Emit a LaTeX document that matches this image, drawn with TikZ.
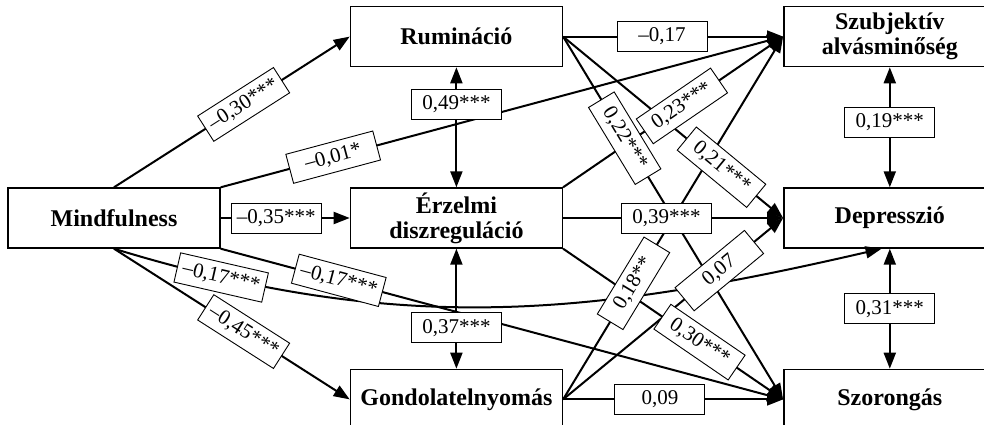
\documentclass[tikz,border=0pt]{standalone}
\usepackage{fontspec}
\setmainfont{Liberation Serif}
\usetikzlibrary{positioning,arrows.meta}

\tikzset{
  var/.style={draw, line width=1.4pt, minimum width=212pt, minimum height=60pt,
    inner sep=0pt, align=center, font=\fontsize{24}{25}\selectfont\bfseries},
  coef/.style={draw, fill=white, line width=0.9pt, minimum width=90pt,
    minimum height=30pt, inner sep=2pt, font=\fontsize{21}{22}\selectfont},
  eff/.style={line width=2pt, -{Triangle[length=16pt,width=12pt]}},
  cov/.style={line width=2pt, {Triangle[length=16pt,width=12pt]}-{Triangle[length=16pt,width=12pt]}},
}

\begin{document}
\begin{tikzpicture}
    \useasboundingbox (0,0) rectangle (984pt,424pt);
    \clip (0,0) rectangle (984pt,424pt);
    % define variables
    \node[var] (mind) at (114pt,206pt) {Mindfulness};
    % mediators
    \node[var, above right=120pt and 129pt of mind] (rum) {Rumináció};
    \node[var, right=129pt of mind] (erz) {Érzelmi\\diszreguláció};
    \node[var, below right=120pt and 129pt of mind] (gond) {Gondolatelnyomás};
    % outcomes
    \node[var, right=220pt of rum] (szubj) {Szubjektív\\alvásminőség};
    \node[var, right=220pt of erz] (depr) {Depresszió};
    \node[var, right=220pt of gond] (szor) {Szorongás};
    % draw paths
    \draw[eff] (mind.north) -- (rum.west);
    \draw[eff] (mind.north east) -- (szubj.west);
    \draw[eff] (mind.east) -- (erz.west);
    \draw[eff] (mind.south east) -- (szor.west);
    \draw[eff] (mind.south) to[out=-17, in=193] (depr.-105);
    \draw[eff] (mind.south) -- (gond.west);
    \draw[eff] (rum.east) -- (szubj.west);
    \draw[eff] (rum.east) -- (depr.west);
    \draw[eff] (rum.east) -- (szor.west);
    \draw[eff] (erz.north east) -- (szubj.west);
    \draw[eff] (erz.east) -- (depr.west);
    \draw[eff] (erz.south east) -- (szor.west);
    \draw[eff] (gond.east) -- (szubj.west);
    \draw[eff] (gond.east) -- (depr.west);
    \draw[eff] (gond.east) -- (szor.west);
    % covariances
    \draw[cov] (rum.south) -- (erz.north);
    \draw[cov] (erz.south) -- (gond.north);
    \draw[cov] (szubj.south) -- (depr.north);
    \draw[cov] (depr.south) -- (szor.north);
    % add labels
    \path (mind.north) -- (rum.west) node[coef, sloped, pos=.55] {–0,30***};
    \path (mind.north east) -- (szubj.west) node[coef, sloped, pos=.2] {–0,01*};
    \path (mind.east) -- (erz.west) node[coef, pos=.43] {–0,35***};
    \path (mind.south east) -- (szor.west) node[coef, sloped, pos=.21] {–0,17***};
    \path (mind.south) to[out=-17, in=193] node[coef, sloped, pos=.13] {–0,17***} (depr.-105);
    \path (mind.south) -- (gond.west) node[coef, sloped, pos=.55] {–0,45***};
    \path (rum.east) -- (szubj.west) node[coef, pos=.45] {–0,17};
    \path (rum.east) -- (depr.west) node[coef, sloped, pos=.72] {0,21***};
    \path (rum.east) -- (szor.west) node[coef, sloped, pos=.28] {0,22***};
    \path (erz.north east) -- (szubj.west) node[coef, sloped, pos=.54] {0,23***};
    \path (erz.east) -- (depr.west) node[coef, pos=.47] {0,39***};
    \path (erz.south east) -- (szor.west) node[coef, sloped, pos=.62] {0,30***};
    \path (gond.east) -- (szubj.west) node[coef, sloped, pos=.32] {0,18**};
    \path (gond.east) -- (depr.west) node[coef, sloped, pos=.71] {0,07};
    \path (gond.east) -- (szor.west) node[coef, pos=.44] {0,09};
    \path (rum.south) -- (erz.north) node[coef, pos=.31] {0,49***};
    \path (erz.south) -- (gond.north) node[coef, pos=.66] {0,37***};
    \path (szubj.south) -- (depr.north) node[coef, pos=.46] {0,19***};
    \path (depr.south) -- (szor.north) node[coef, pos=.5] {0,31***};
\end{tikzpicture}
\end{document}
